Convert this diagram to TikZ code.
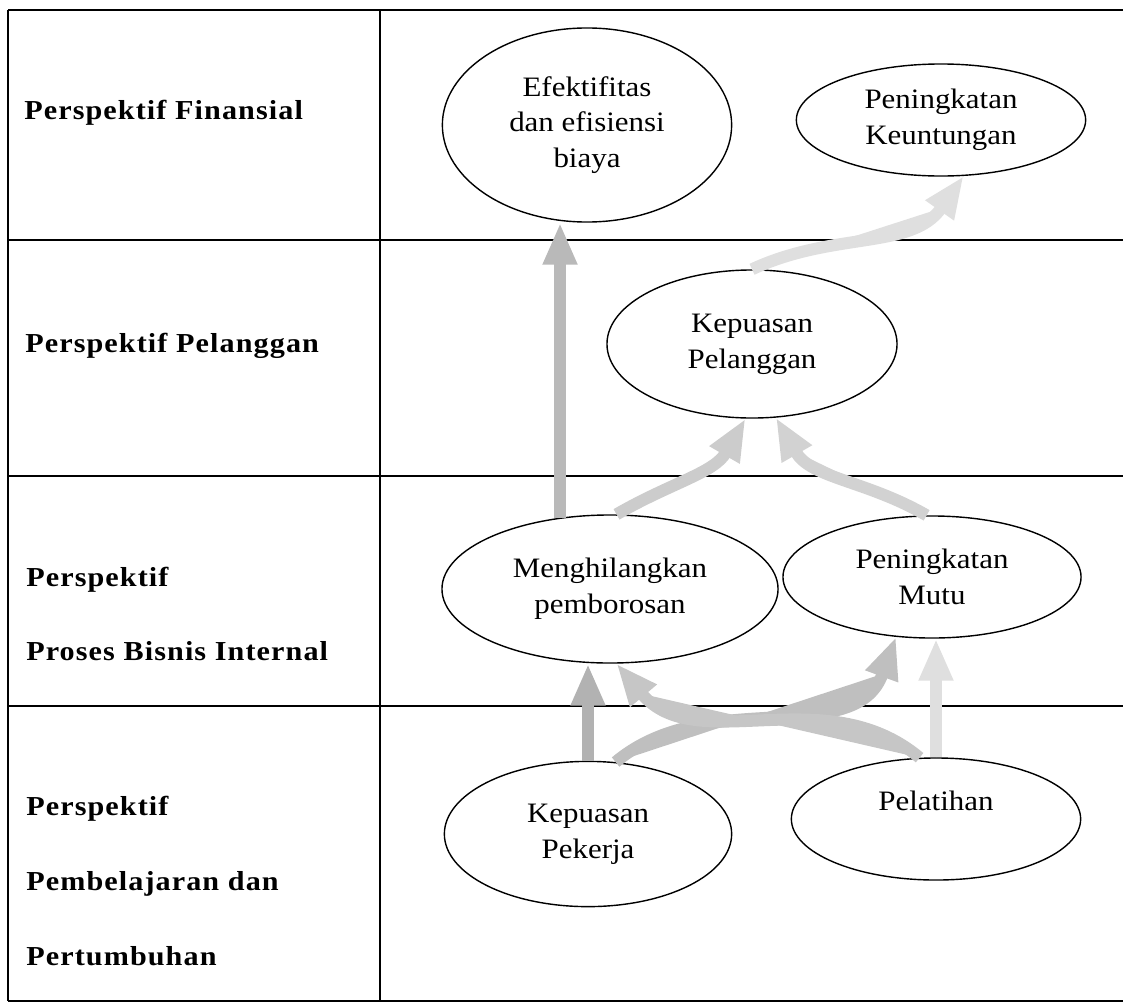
\documentclass[tikz,border=0pt]{standalone}
\usepackage{fontspec}
\setmainfont{Liberation Serif}
\newfontfamily\persfont{Liberation Serif}[FakeStretch=1.1, LetterSpace=4]
\newfontfamily\goalfont{Liberation Serif}[FakeStretch=1.1]
\usepackage{tikz}
\usetikzlibrary{arrows.meta, shapes.geometric, calc}

\begin{document}
\begin{tikzpicture}[
    x=0.025cm, y=-0.025cm,
    grid/.style={line width=0.9pt},
    persp/.style={anchor=west, align=left, inner sep=0pt, font=\persfont\bfseries\fontsize{19.5}{53}\selectfont},
    goal/.style={draw, ellipse, line width=1pt, align=center, inner sep=0pt, font=\goalfont\fontsize{20}{25.5}\selectfont},
    arr/.style={line width=0.3cm, -{Triangle[width=0.8cm, length=1.05cm]}}
]
\useasboundingbox (0,0) rectangle (1123,1006);

% table
\draw[grid] (8,10) -- (1123,10);
\draw[grid] (8,240) -- (1123,240);
\draw[grid] (8,476) -- (1123,476);
\draw[grid] (8,706) -- (1123,706);
\draw[grid] (8,1001) -- (1123,1001);
\draw[grid] (8,10) -- (8,1001);
\draw[grid] (380,10) -- (380,1001);

% perspectives
\node[persp] (fin) at (24,113) {Perspektif Finansial};
\node[persp] (pel) at (25,346) {Perspektif Pelanggan};
\node[persp] (pbi) at (26,614) {Perspektif\\Proses Bisnis Internal};
\node[persp] (pdp) at (26,881) {Perspektif\\Pembelajaran dan\\Pertumbuhan};

% goals
\node[goal, minimum width=7.23cm, minimum height=4.85cm] (ef) at (587,125) {Efektifitas\\dan efisiensi\\biaya};
\node[goal, minimum width=7.23cm, minimum height=2.8cm] (kt) at (941,120) {Peningkatan\\Keuntungan};
\node[goal, minimum width=7.25cm, minimum height=3.7cm] (kpl) at (752,344) {Kepuasan\\Pelanggan};
\node[goal, minimum width=8.4cm, minimum height=3.7cm] (mp) at (610,589) {Menghilangkan\\pemborosan};
\node[goal, minimum width=7.45cm, minimum height=3.05cm] (pm) at (932,577) {Peningkatan\\Mutu};
\node[goal, minimum width=7.18cm, minimum height=3.63cm] (kpk) at (588,834) {Kepuasan\\Pekerja};
\node[goal, minimum width=7.23cm, minimum height=3.05cm] (pl) at (936,819) {Pelatihan\\~};

% links
\draw[arr, draw=gray!55, fill=gray!55] (mp.125) -- (mp.125 |- ef.south);
\draw[arr, draw=gray!25, fill=gray!25] (kpl.north) to[out=25, in=235] (kt.292);
\draw[arr, draw=gray!40, fill=gray!40] (mp.85) to[out=30, in=240] (kpl.265);
\draw[arr, draw=gray!35, fill=gray!35] (pm.95) to[out=150, in=-60] (kpl.288);
\draw[arr, draw=gray!60, fill=gray!60] (kpk.north) -- (kpk.north |- mp.south);
\draw[arr, draw=gray!25, fill=gray!25] (pl.north) -- (pl.north |- pm.south);
\draw[arr, draw=gray!50, fill=gray!50] (kpk.69) to[out=40, in=-110] (pm.239);
\draw[arr, draw=gray!45, fill=gray!45] (pl.105) to[out=140, in=-50] (mp.275);
\end{tikzpicture}
\end{document}
